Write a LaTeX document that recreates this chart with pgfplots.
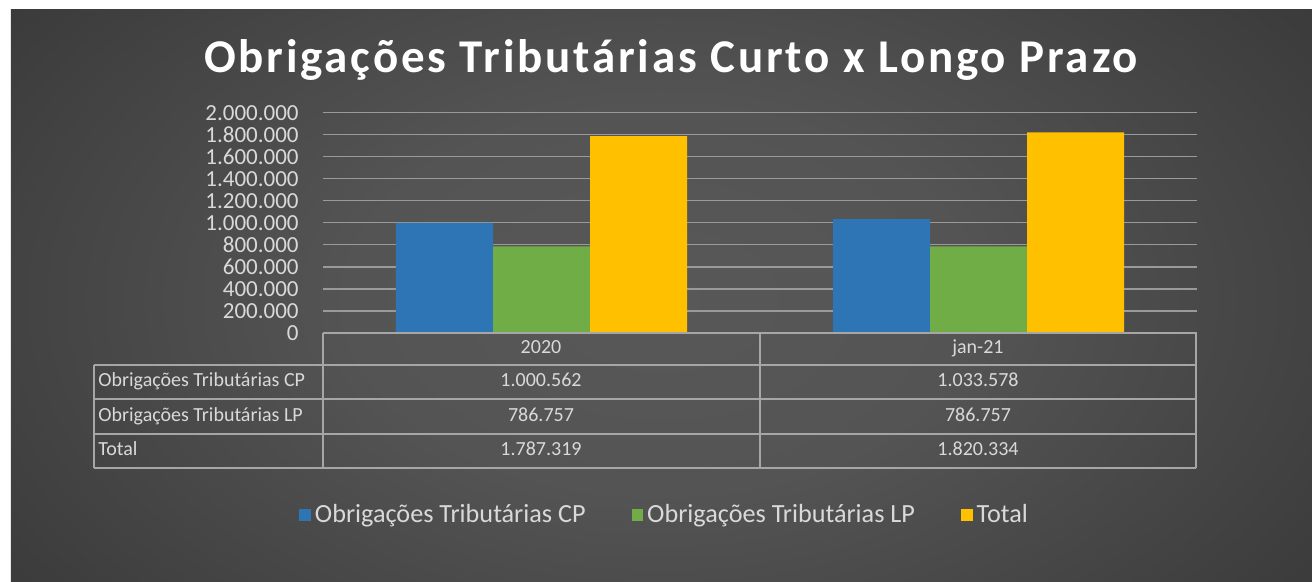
\documentclass[border=0pt]{standalone}
\usepackage{fontspec}
\setmainfont{Carlito}
\newfontfamily\titlefont[LetterSpace=6]{Carlito}
\usepackage{pgfplots}
\pgfplotsset{compat=1.18}
\definecolor{cpblue}{HTML}{2E75B6}
\definecolor{lpgreen}{HTML}{70AD47}
\definecolor{totgold}{HTML}{FFC000}
\definecolor{txt}{HTML}{D9D9D9}
\definecolor{gridc}{HTML}{9A9A9A}
\definecolor{tabc}{HTML}{A6A6A6}
\definecolor{bgA}{HTML}{585858}
\definecolor{bgB}{HTML}{545454}
\definecolor{bgC}{HTML}{3C3C3C}
\definecolor{bgD}{HTML}{2D2D2D}
\definecolor{bgE}{HTML}{252525}
\pgfdeclareradialshading{bgshade}{\pgfpoint{0bp}{0bp}}{color(0bp)=(bgA); color(12bp)=(bgB); color(30bp)=(bgC); color(45bp)=(bgD); color(71bp)=(bgE)}
\tikzset{px/.style={x=0.5pt,y=-0.5pt,shift={(-161.5pt,166.5pt)}},
  tabline/.style={draw=tabc,line width=0.75pt}}
\begin{document}
\begin{tikzpicture}
\begin{scope}[px]
  \fill[white] (0,0) rectangle (1312,582);
  \begin{scope}
    \clip (11,10) rectangle (1312,582);
    \shade[shading=bgshade] (11,-100) rectangle (1312,700);
  \end{scope}
  \node[anchor=base,text=white,font=\titlefont\bfseries\fontsize{23.5pt}{28pt}\selectfont] at (671,73) {Obrigações Tributárias Curto x Longo Prazo};
\end{scope}
\begin{axis}[
  at={(0,0)}, anchor=south west, scale only axis,
  width=437pt, height=110.15pt,
  ybar=0pt, bar width=48.5pt,
  xmin=-0.5, xmax=1.5, ymin=0, ymax=2000000,
  xtick=\empty,
  ytick={0,200000,400000,600000,800000,1000000,1200000,1400000,1600000,1800000,2000000},
  scaled y ticks=false,
  ymajorgrids, grid style={draw=gridc,line width=0.6pt},
  axis line style={draw=none}, major tick length=0pt,
  /pgf/number format/assume math mode=true,
  yticklabel style={/pgf/number format/.cd,fixed,precision=0,1000 sep={.},/tikz/.cd,
    font=\fontsize{11.5pt}{12pt}\selectfont, text=txt, anchor=east, inner sep=0pt, xshift=-12pt},
  legend columns=3,
  legend style={at={(0.392,-0.826)}, anchor=center, draw=none, fill=none,
    font=\fontsize{13.1pt}{15pt}\selectfont, text=txt,
    /tikz/every even column/.append style={column sep=21pt}},
  legend image code/.code={\path[#1,draw=none] (0.5pt,-2.9pt) rectangle (6.3pt,2.9pt);},
]
\addplot[fill=cpblue,draw=none] coordinates {(0,1000562) (1,1033578)};
\addplot[fill=lpgreen,draw=none] coordinates {(0,786757) (1,786757)};
\addplot[fill=totgold,draw=none] coordinates {(0,1787319) (1,1820334)};
\legend{Obrigações Tributárias CP,Obrigações Tributárias LP,Total}
\end{axis}
\begin{scope}[px]
  \draw[tabline] (323,333) -- (1196,333);
  \foreach \yy in {365,399,434,468} {\draw[tabline] (94,\yy) -- (1196,\yy);}
  \draw[tabline] (94,365) -- (94,468);
  \foreach \xx in {323,760,1196} {\draw[tabline] (\xx,333) -- (\xx,468);}
  \begin{scope}[every node/.style={text=txt,font=\fontsize{10pt}{12pt}\selectfont,inner sep=0pt}]
    \node[anchor=mid] at (541,349) {2020};
    \node[anchor=mid] at (978,349) {jan-21};
    \node[anchor=mid west] at (98,382) {Obrigações Tributárias CP};
    \node[anchor=mid west] at (98,416.5) {Obrigações Tributárias LP};
    \node[anchor=mid west] at (98,451) {Total};
    \node[anchor=mid] at (541,382) {1.000.562};
    \node[anchor=mid] at (978,382) {1.033.578};
    \node[anchor=mid] at (541,416.5) {786.757};
    \node[anchor=mid] at (978,416.5) {786.757};
    \node[anchor=mid] at (541,451) {1.787.319};
    \node[anchor=mid] at (978,451) {1.820.334};
  \end{scope}
\end{scope}
\end{tikzpicture}
\end{document}
